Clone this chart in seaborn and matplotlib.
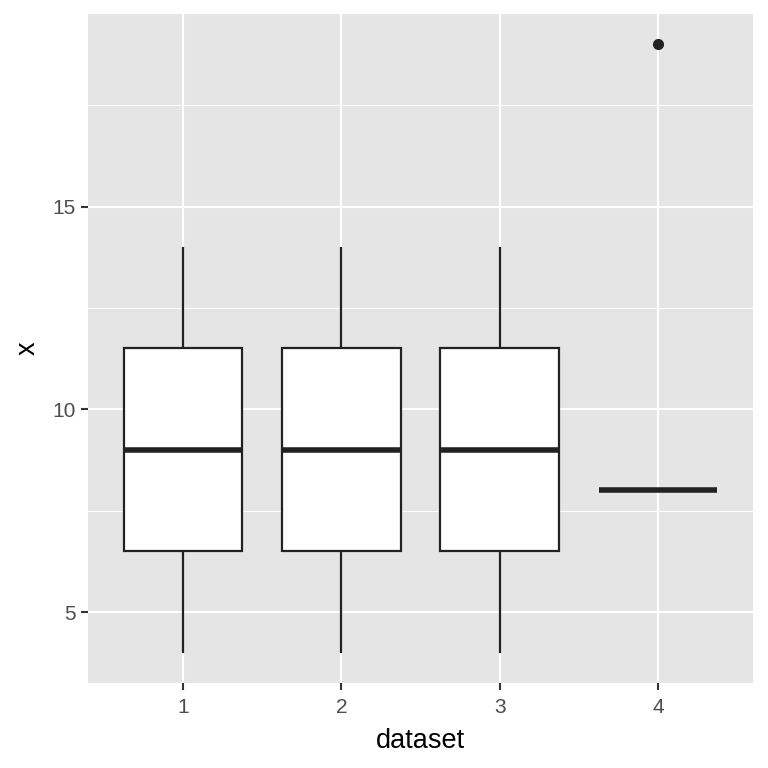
import pandas as pd
import numpy as np
import matplotlib.pyplot as plt
import seaborn as sns
from matplotlib.ticker import MultipleLocator

# Anscombe's quartet, x values
x1 = [10, 8, 13, 9, 11, 14, 6, 4, 12, 7, 5]
x2 = [10, 8, 13, 9, 11, 14, 6, 4, 12, 7, 5]
x3 = [10, 8, 13, 9, 11, 14, 6, 4, 12, 7, 5]
x4 = [8, 8, 8, 8, 8, 8, 8, 19, 8, 8, 8]
datasets = ["1", "2", "3", "4"]

df = pd.DataFrame({
    "dataset": np.repeat(datasets, 11),
    "x": x1 + x2 + x3 + x4,
})

plt.rcParams["font.family"] = ["Liberation Sans", "DejaVu Sans"]

fig = plt.figure(figsize=(7.68, 7.68), dpi=100)
ax = fig.add_axes([88 / 768, 1 - 683 / 768, (753 - 88) / 768, (683 - 14) / 768])
ax.set_facecolor("#E5E5E5")

line_c = "#222222"
sns.boxplot(data=df, x="dataset", y="x", order=datasets, width=0.75, ax=ax,
            color="white", linecolor=line_c, linewidth=1.6,
            boxprops=dict(facecolor="white", edgecolor=line_c),
            medianprops=dict(color=line_c, linewidth=4),
            whiskerprops=dict(color=line_c),
            capprops=dict(linewidth=0),
            flierprops=dict(marker="o", markerfacecolor=line_c, markeredgecolor=line_c,
                            markersize=7))

ax.set_xlim(-0.6, 3.6)
ax.set_ylim(3.25, 19.75)
ax.yaxis.set_major_locator(MultipleLocator(5))
ax.yaxis.set_minor_locator(MultipleLocator(2.5))
ax.grid(which="major", color="white", linewidth=1.5)
ax.grid(which="minor", axis="y", color="white", linewidth=0.75)
ax.set_axisbelow(True)
for s in ax.spines.values():
    s.set_visible(False)
ax.tick_params(which="major", colors="#333333", labelcolor="#4D4D4D", labelsize=15,
               length=5, width=1.5, pad=4)
ax.tick_params(axis="x", pad=6)
ax.tick_params(which="minor", length=0)
ax.set_xlabel("dataset", fontsize=19.5, color="black", labelpad=8)
ax.set_ylabel("x", fontsize=19.5, color="black", labelpad=8)

fig.savefig("out.png", dpi=100)
